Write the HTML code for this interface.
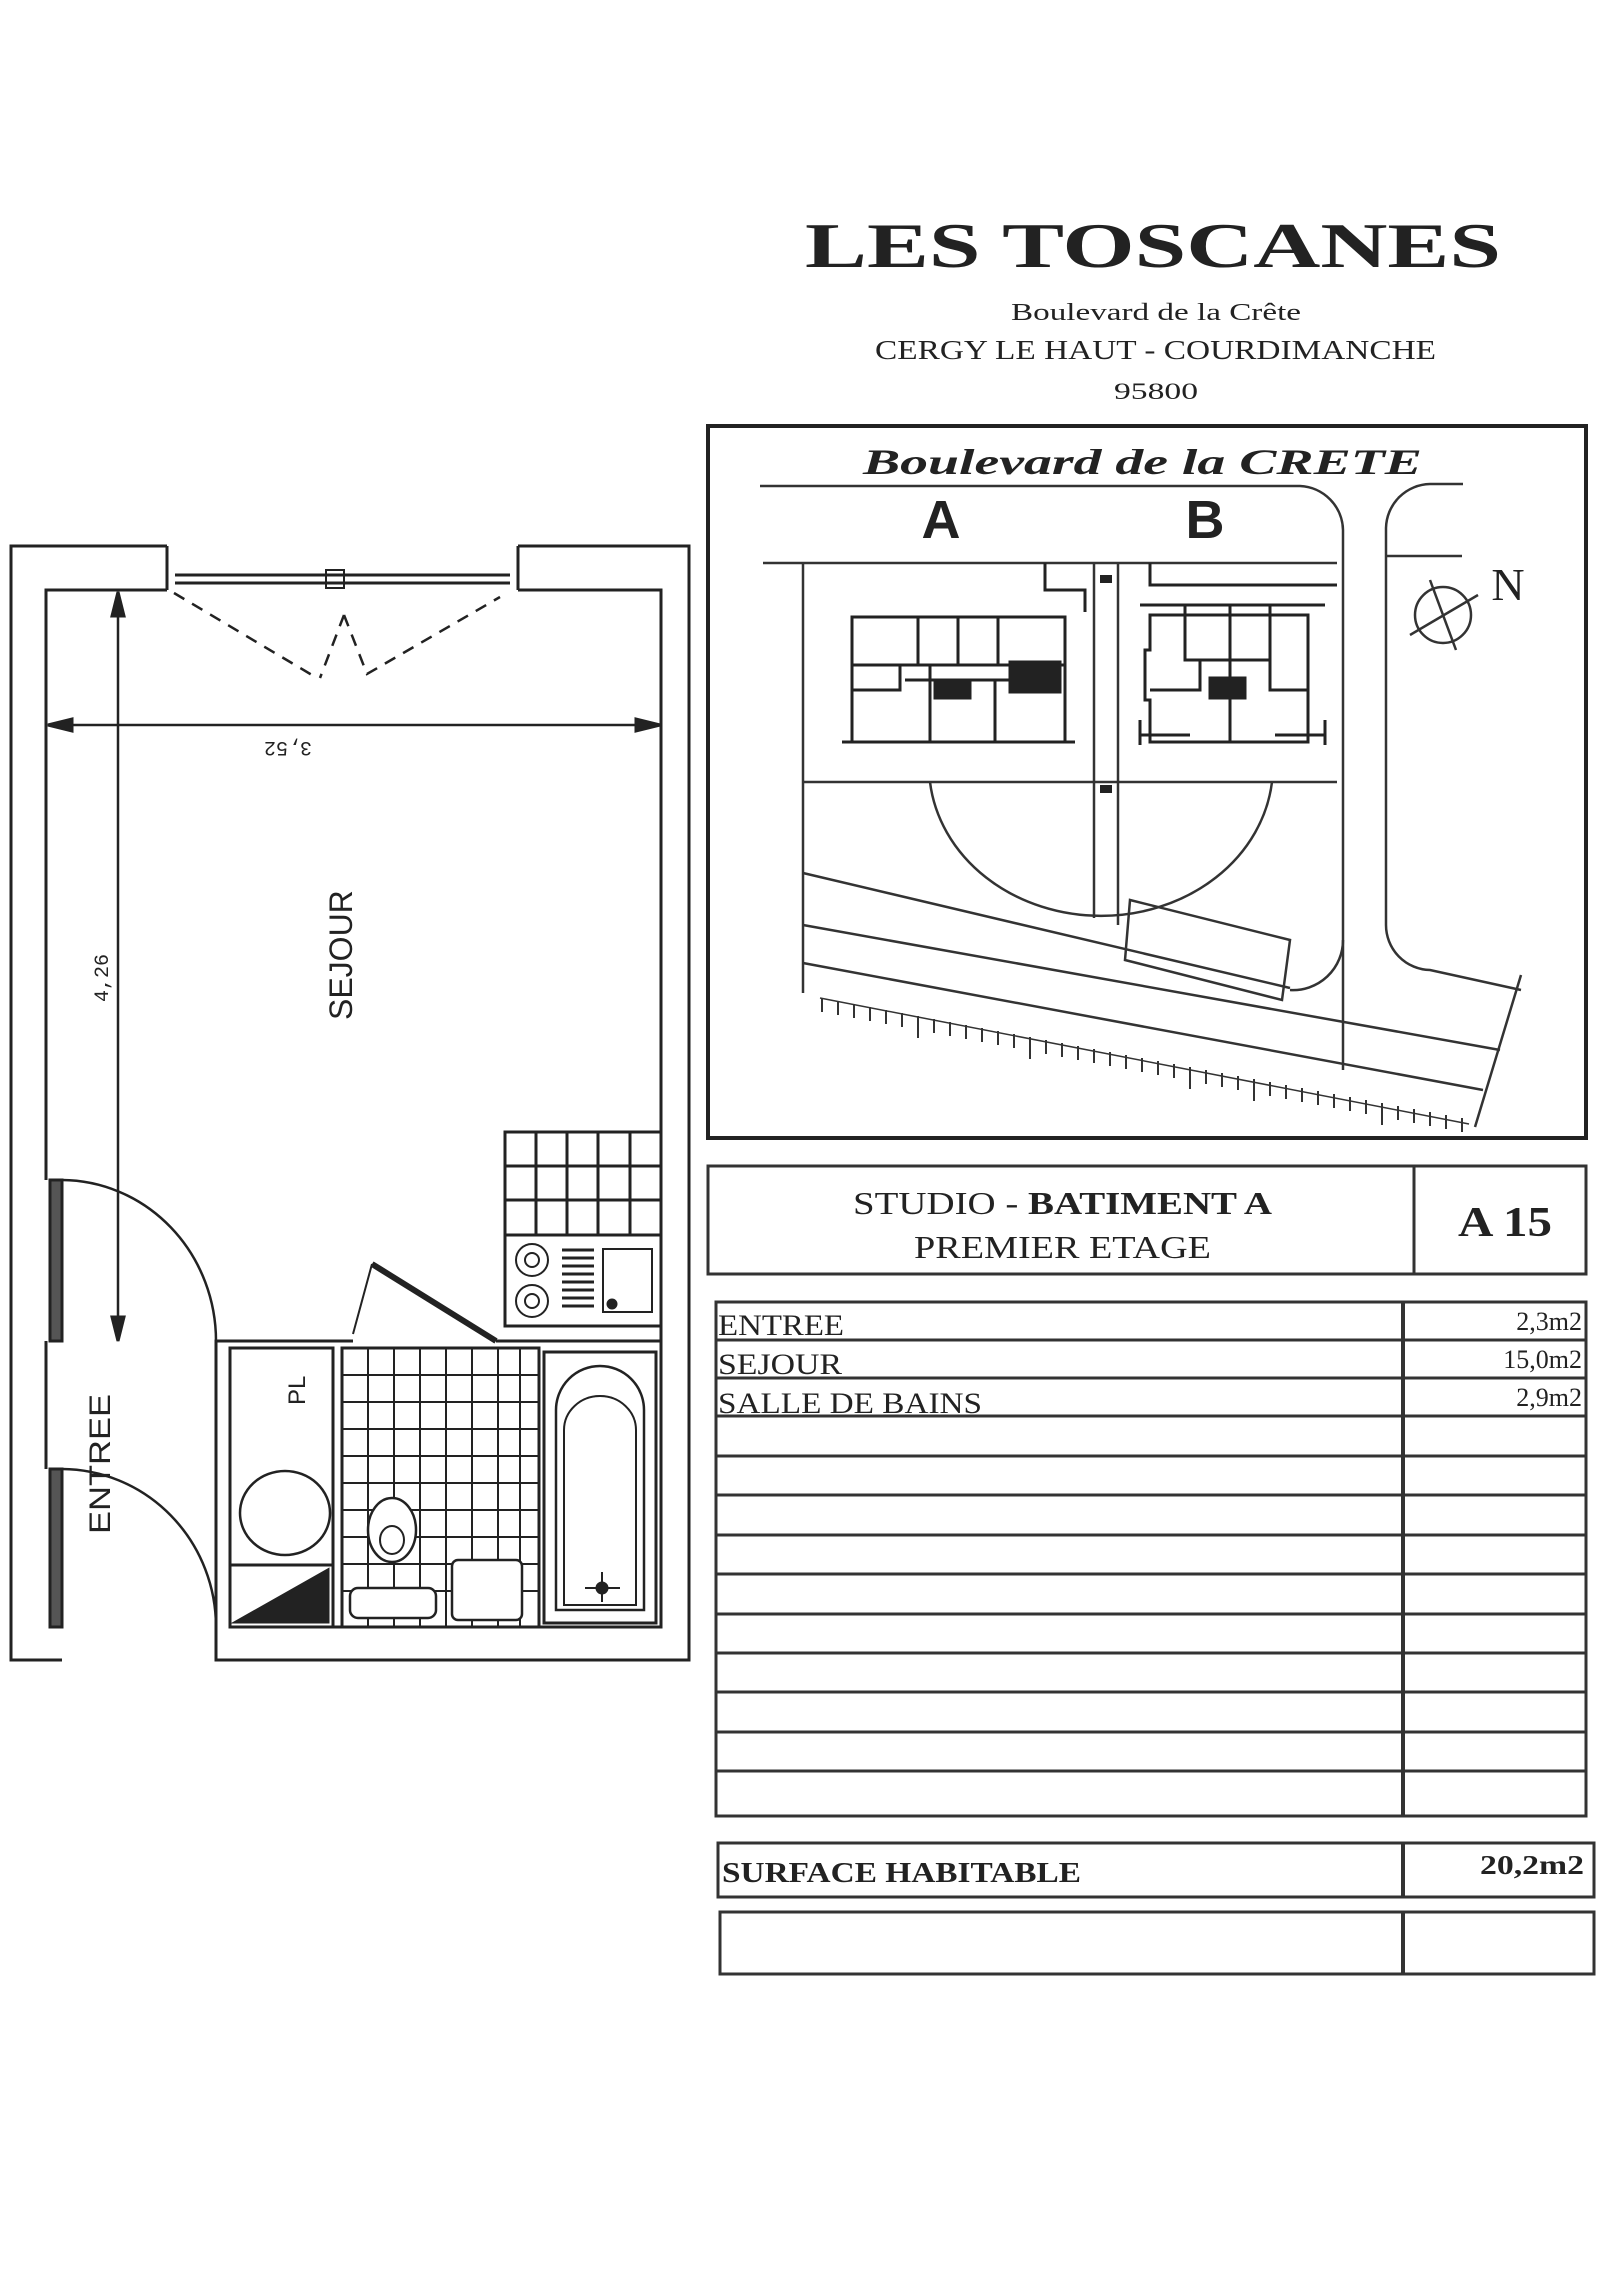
<!DOCTYPE html>
<html><head><meta charset="utf-8"><style>
html,body{margin:0;padding:0;background:#fff;}
svg{display:block;}
text{fill:#222;}
</style></head><body>
<svg width="1600" height="2275" viewBox="0 0 1600 2275" xmlns="http://www.w3.org/2000/svg">
<rect width="1600" height="2275" fill="#fff"/>
<!-- Title -->
<text x="805" y="267" textLength="696" lengthAdjust="spacingAndGlyphs" font-family="Liberation Serif, serif" font-weight="bold" font-size="64">LES TOSCANES</text>
<text x="1011" y="320" textLength="290" lengthAdjust="spacingAndGlyphs" font-family="Liberation Serif, serif" font-size="24">Boulevard de la Crête</text>
<text x="875" y="359" textLength="561" lengthAdjust="spacingAndGlyphs" font-family="Liberation Serif, serif" font-size="27">CERGY LE HAUT - COURDIMANCHE</text>
<text x="1114" y="399" textLength="84" lengthAdjust="spacingAndGlyphs" font-family="Liberation Serif, serif" font-size="23">95800</text>

<!-- Floor plan -->
<g fill="none" stroke="#222" stroke-width="3">
  <polyline points="167,546 11,546 11,1660 62,1660"/>
  <polyline points="518,546 689,546 689,1660 216,1660 216,1627"/>
  <polyline points="167,590 46,590 46,1180"/>
  <polyline points="518,590 661,590 661,1627 230,1627"/>
  <line x1="46" y1="1341" x2="46" y2="1469"/>
  <line x1="167" y1="546" x2="167" y2="590"/>
  <line x1="518" y1="546" x2="518" y2="590"/>
  <line x1="175" y1="575" x2="510" y2="575"/>
  <line x1="175" y1="583" x2="510" y2="583"/>
  <rect x="326" y="570" width="18" height="18" stroke-width="2"/>
  <path d="M174,593 L317,678 M344,615 L320,678 M344,615 L367,674 L500,597" stroke-dasharray="12,9" stroke-width="2.5"/>
  <rect x="50" y="1180" width="12" height="161" fill="#555"/>
  <path d="M62,1180 A155,161 0 0 1 216,1341" stroke-width="2.5"/>
  <rect x="50" y="1469" width="12" height="158" fill="#555"/>
  <path d="M62,1469 A155,158 0 0 1 216,1627" stroke-width="2.5"/>
  <line x1="48" y1="725" x2="660" y2="725" stroke-width="2.5"/>
  <polygon points="48,725 72,719 72,731" fill="#222"/>
  <polygon points="660,725 636,719 636,731" fill="#222"/>
  <line x1="118" y1="592" x2="118" y2="1341" stroke-width="2.5"/>
  <polygon points="118,592 112,616 124,616" fill="#222"/>
  <polygon points="118,1341 112,1317 124,1317" fill="#222"/>
  <rect x="505" y="1132" width="156" height="103"/>
  <path d="M536,1132 V1235 M567,1132 V1235 M598,1132 V1235 M630,1132 V1235 M505,1166 H661 M505,1200 H661"/>
  <rect x="505" y="1235" width="156" height="91"/>
  <circle cx="532" cy="1260" r="16" stroke-width="2"/><circle cx="532" cy="1260" r="7" stroke-width="2"/>
  <circle cx="532" cy="1301" r="16" stroke-width="2"/><circle cx="532" cy="1301" r="7" stroke-width="2"/>
  <path d="M562,1250 H594 M562,1258 H594 M562,1266 H594 M562,1274 H594 M562,1282 H594 M562,1290 H594 M562,1298 H594 M562,1306 H594" stroke-width="3"/>
  <rect x="603" y="1249" width="49" height="63" stroke-width="2"/>
  <circle cx="612" cy="1304" r="4" fill="#222"/>
  <polyline points="216,1627 216,1341 353,1341"/>
  <line x1="496" y1="1341" x2="661" y2="1341"/>
  <path d="M353,1334 L372,1264" stroke-width="2"/>
  <path d="M372,1264 L496,1341" stroke-width="6"/>
  <rect x="230" y="1348" width="103" height="279"/>
  <ellipse cx="285" cy="1513" rx="45" ry="42" stroke-width="2.5"/>
  <rect x="230" y="1565" width="103" height="62"/>
  <polygon points="236,1622 328,1622 328,1570" fill="#222"/>
  <rect x="342" y="1348" width="197" height="279"/>
  <path d="M368,1348V1627 M394,1348V1627 M420,1348V1627 M446,1348V1627 M472,1348V1627 M498,1348V1627 M520,1348V1627 M342,1375H539 M342,1402H539 M342,1429H539 M342,1456H539 M342,1483H539 M342,1510H539 M342,1537H539 M342,1564H539 M342,1591H539" stroke-width="2"/>
  <ellipse cx="392" cy="1530" rx="24" ry="32" fill="#fff" stroke-width="2.5"/>
  <ellipse cx="392" cy="1540" rx="12" ry="14" stroke-width="2"/>
  <rect x="350" y="1588" width="86" height="30" rx="8" fill="#fff" stroke-width="2.5"/>
  <rect x="452" y="1560" width="70" height="60" rx="6" fill="#fff" stroke-width="2.5"/>
  <rect x="544" y="1352" width="112" height="271" stroke-width="3"/>
  <path d="M556,1610 V1410 A44,44 0 0 1 644,1410 V1610 Z" stroke-width="2.5"/>
  <path d="M564,1605 V1430 A36,34 0 0 1 636,1430 V1605 Z" stroke-width="2"/>
  <path d="M585,1588 H620 M602,1572 V1602" stroke-width="2"/>
  <circle cx="602" cy="1588" r="5" fill="#222"/>
</g>
<text transform="translate(312,742) rotate(180)" font-family="Liberation Mono, monospace" font-size="20">3,52</text>
<text transform="translate(108,1002) rotate(-90)" font-family="Liberation Mono, monospace" font-size="20">4,26</text>
<text transform="translate(352,1020) rotate(-90)" font-family="Liberation Sans, sans-serif" font-size="32">SEJOUR</text>
<text transform="translate(110,1534) rotate(-90)" font-family="Liberation Sans, sans-serif" font-size="30" textLength="140" lengthAdjust="spacingAndGlyphs">ENTREE</text>
<text transform="translate(305,1405) rotate(-90)" font-family="Liberation Sans, sans-serif" font-size="24">PL</text>

<!-- Map -->
<rect x="708" y="426" width="878" height="712" fill="none" stroke="#222" stroke-width="4"/>
<text x="863" y="474" textLength="559" lengthAdjust="spacingAndGlyphs" font-family="Liberation Serif, serif" font-style="italic" font-weight="bold" font-size="36" fill="#444">Boulevard de la CRETE</text>
<g fill="none" stroke="#333" stroke-width="2.5">
  <path d="M760,486 H1300 A45,45 0 0 1 1343,530 V1070"/>
  <path d="M1463,484 H1430 A45,45 0 0 0 1386,528 V925 A45,45 0 0 0 1430,970 L1521,990"/>
  <path d="M763,563 H1337 M1386,556 H1462"/>
  <path d="M803,563 V993"/>
  <path d="M803,782 H1337"/>
  <path d="M930,782 A172,150 0 0 0 1272,782"/>
  <path d="M1094,563 V918 M1118,563 V925"/>
  <path d="M803,873 L1290,988 M803,925 L1500,1050 M803,963 L1483,1090 M1521,975 L1475,1127"/>
  <path d="M1130,900 L1290,940 L1282,1000 L1125,960 Z"/>
  <path d="M1290,990 A50,50 0 0 0 1343,940"/>
</g>
<line x1="820" y1="998" x2="1469" y2="1124" stroke="#333" stroke-width="1.5"/>
<g stroke="#333" stroke-width="2">
  <path d="M822,998v14 M838,1001v14 M854,1004v14 M870,1007v14 M886,1010v14 M902,1013v14 M918,1016v22 M934,1019v14 M950,1022v14 M966,1025v14 M982,1028v14 M998,1031v14 M1014,1034v14 M1030,1037v22 M1046,1040v14 M1062,1043v14 M1078,1046v14 M1094,1049v14 M1110,1052v14 M1126,1055v14 M1142,1058v14 M1158,1061v14 M1174,1064v14 M1190,1067v22 M1206,1070v14 M1222,1073v14 M1238,1076v14 M1254,1079v22 M1270,1082v14 M1286,1085v14 M1302,1088v14 M1318,1091v14 M1334,1094v14 M1350,1097v14 M1366,1100v14 M1382,1103v22 M1398,1106v14 M1414,1109v14 M1430,1112v14 M1446,1115v14 M1462,1118v14"/>
</g>
<text x="941" y="538" text-anchor="middle" font-family="Liberation Sans, sans-serif" font-weight="bold" font-size="54">A</text>
<text x="1205" y="538" text-anchor="middle" font-family="Liberation Sans, sans-serif" font-weight="bold" font-size="54">B</text>
<g fill="none" stroke="#222" stroke-width="3">
  <rect x="852" y="617" width="213" height="125"/>
  <path d="M918,617V665 M958,617V665 M998,617V665 M852,665H1065 M852,690H900 V665 M930,665V742 M995,680V742 M905,680H1010"/>
  <path d="M842,742 H890 M1020,742 H1075"/>
  <rect x="1010" y="662" width="50" height="30" fill="#222"/>
  <rect x="935" y="680" width="35" height="18" fill="#222"/>
  <path d="M1150,615 H1308 V742 H1150 V700 H1145 V650 H1150 Z"/>
  <path d="M1185,605V660 H1270 V605 M1230,605V742 M1150,690 H1200 V660 M1270,660V690 H1308 M1140,605H1325"/>
  <rect x="1210" y="678" width="35" height="20" fill="#222"/>
  <path d="M1140,735 H1190 M1275,735 H1325 M1140,745 V720 M1325,745 V720"/>
  <path d="M1045,563 V590 H1085 V612 M1150,563 V585 H1337"/>
</g>
<rect x="1100" y="575" width="12" height="8" fill="#222"/>
<rect x="1100" y="785" width="12" height="8" fill="#222"/>
<g fill="none" stroke="#333" stroke-width="2.5">
  <circle cx="1443" cy="615" r="28"/>
  <line x1="1410" y1="635" x2="1478" y2="595"/>
  <line x1="1430" y1="580" x2="1456" y2="650"/>
</g>
<text x="1508" y="600" text-anchor="middle" font-family="Liberation Serif, serif" font-size="46">N</text>

<!-- Studio box -->
<g fill="none" stroke="#333" stroke-width="3">
  <rect x="708" y="1166" width="878" height="108"/>
  <line x1="1414" y1="1166" x2="1414" y2="1274"/>
</g>
<text x="853" y="1214" textLength="419" lengthAdjust="spacingAndGlyphs" font-family="Liberation Serif, serif" font-size="32" fill="#333">STUDIO - <tspan font-weight="bold">BATIMENT A</tspan></text>
<text x="914" y="1258" textLength="297" lengthAdjust="spacingAndGlyphs" font-family="Liberation Serif, serif" font-size="32" fill="#333">PREMIER ETAGE</text>
<text x="1458" y="1236" textLength="94" lengthAdjust="spacingAndGlyphs" font-family="Liberation Serif, serif" font-weight="bold" font-size="42">A 15</text>

<!-- Table -->
<g fill="none" stroke="#333" stroke-width="3">
  <rect x="716" y="1302" width="870" height="514"/>
  <line x1="1403" y1="1302" x2="1403" y2="1816" stroke-width="4"/>
  <path d="M716,1340H1586 M716,1378H1586 M716,1416H1586 M716,1456H1586 M716,1495H1586 M716,1535H1586 M716,1574H1586 M716,1614H1586 M716,1653H1586 M716,1692H1586 M716,1732H1586 M716,1771H1586"/>
</g>
<g font-family="Liberation Serif, serif" font-size="30" fill="#333">
<text x="718" y="1335" textLength="126" lengthAdjust="spacingAndGlyphs">ENTREE</text>
<text x="718" y="1374" textLength="124" lengthAdjust="spacingAndGlyphs">SEJOUR</text>
<text x="718" y="1413" textLength="264" lengthAdjust="spacingAndGlyphs">SALLE DE BAINS</text>
<text x="1582" y="1330" text-anchor="end" font-size="26">2,3m2</text>
<text x="1582" y="1368" text-anchor="end" font-size="26">15,0m2</text>
<text x="1582" y="1406" text-anchor="end" font-size="26">2,9m2</text>
</g>
<g fill="none" stroke="#333" stroke-width="3">
  <rect x="718" y="1843" width="876" height="54"/>
  <line x1="1403" y1="1843" x2="1403" y2="1897" stroke-width="4"/>
  <rect x="720" y="1912" width="874" height="62"/>
  <line x1="1403" y1="1912" x2="1403" y2="1974" stroke-width="4"/>
</g>
<text x="722" y="1882" textLength="359" lengthAdjust="spacingAndGlyphs" font-family="Liberation Serif, serif" font-weight="bold" font-size="29" fill="#333">SURFACE HABITABLE</text>
<text x="1480" y="1874" textLength="104" lengthAdjust="spacingAndGlyphs" font-family="Liberation Serif, serif" font-weight="bold" font-size="27" fill="#333">20,2m2</text>
</svg>
</body></html>
